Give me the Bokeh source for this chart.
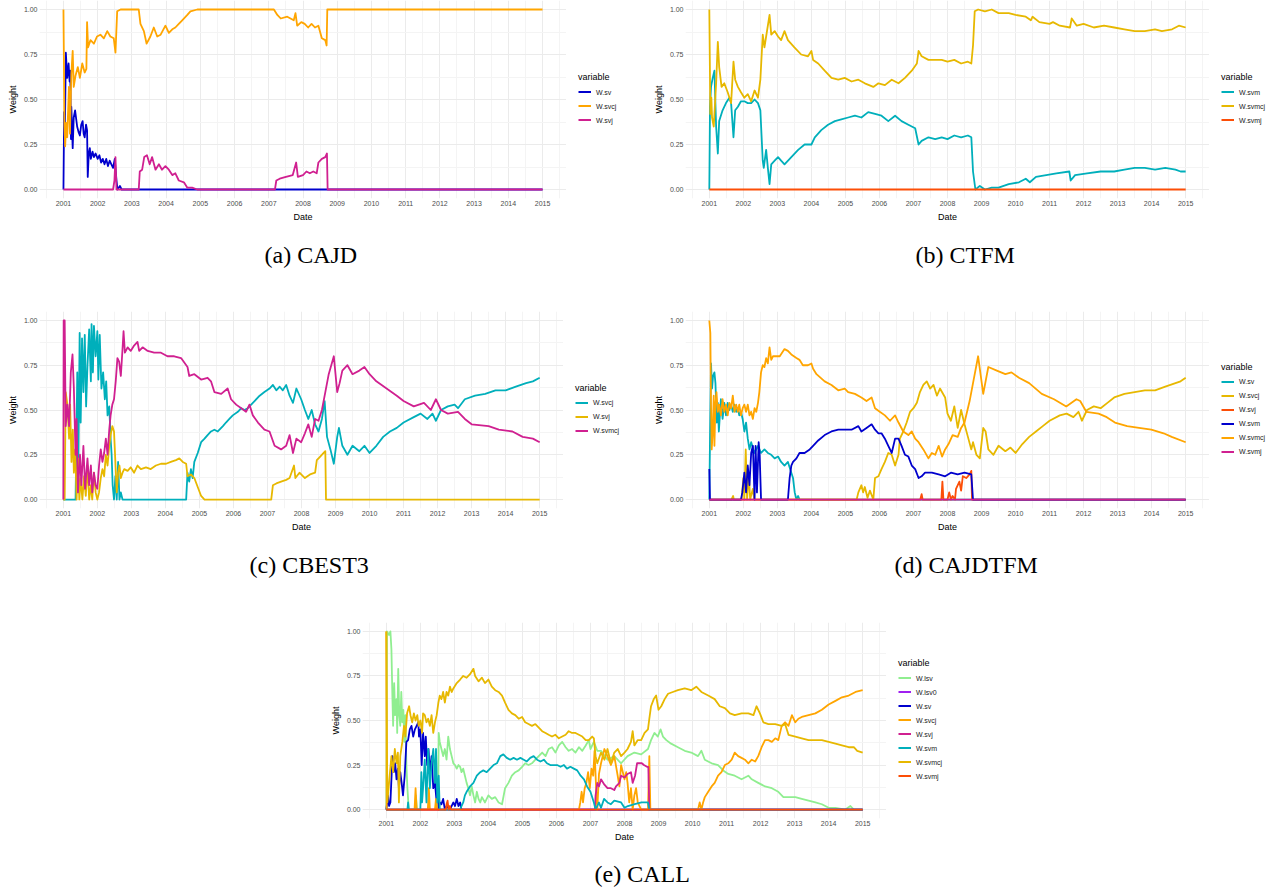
from bokeh.plotting import figure
from bokeh.models import (Range1d, FixedTicker, NumeralTickFormatter, Legend,
                          LegendItem, Title, Spacer)
from bokeh.layouts import column, row
from bokeh.embed import file_html
from bokeh.resources import INLINE

# ---------------- tick labels ----------------
YEARS = list(range(2001, 2016))
HALF_YEARS = [y + 0.5 for y in range(2000, 2016)]
WEIGHT_TICKS = [0.0, 0.25, 0.5, 0.75, 1.0]
WEIGHT_MINOR = [0.125, 0.375, 0.625, 0.875]

# ---------------- colours ----------------
C_BLUE = "#0000CD"
C_ORANGE = "#FFA500"
C_MAGENTA = "#D02090"
C_TEAL = "#00AFBB"
C_GOLD = "#E7B800"
C_RED = "#FC4E07"
C_GREEN = "#90EE90"
C_PURPLE = "#A020F0"

# ---------------- (a) CAJD ----------------
A_SV = [(2001.00,0.00),(2001.02,0.43),(2001.04,0.30),(2001.07,0.76),(2001.11,0.62),(2001.15,0.70),
        (2001.18,0.60),(2001.20,0.66),(2001.22,0.28),(2001.23,0.46),(2001.27,0.23),(2001.30,0.40),
        (2001.34,0.44),(2001.40,0.35),(2001.44,0.32),(2001.48,0.30),(2001.52,0.36),(2001.56,0.38),
        (2001.59,0.31),(2001.62,0.29),(2001.66,0.36),(2001.69,0.33),(2001.71,0.07),(2001.74,0.20),
        (2001.77,0.23),(2001.80,0.17),(2001.85,0.21),(2001.89,0.18),(2001.94,0.20),(2002.00,0.17),
        (2002.05,0.19),(2002.10,0.15),(2002.15,0.17),(2002.20,0.14),(2002.25,0.17),(2002.30,0.13),
        (2002.35,0.16),(2002.40,0.14),(2002.45,0.12),(2002.50,0.17),(2002.55,0.05),(2002.58,0.00),
        (2002.65,0.02),(2002.70,0.00),(2015.00,0.00)]
A_SVCJ = [(2001.00,1.00),(2001.03,0.35),(2001.05,0.24),(2001.08,0.37),(2001.11,0.29),(2001.16,0.57),
          (2001.19,0.31),(2001.23,0.64),(2001.27,0.77),(2001.30,0.57),(2001.35,0.63),(2001.42,0.68),
          (2001.48,0.62),(2001.55,0.70),(2001.62,0.65),(2001.67,0.67),(2001.69,0.93),(2001.72,0.79),
          (2001.79,0.83),(2001.89,0.81),(2001.98,0.85),(2002.08,0.86),(2002.18,0.84),(2002.28,0.88),
          (2002.37,0.85),(2002.47,0.84),(2002.52,0.76),(2002.57,0.99),(2002.67,1.00),(2003.20,1.00),
          (2003.25,0.92),(2003.35,0.88),(2003.43,0.81),(2003.54,0.85),(2003.64,0.90),(2003.74,0.85),
          (2003.84,0.86),(2003.98,0.91),(2004.08,0.87),(2004.18,0.89),(2004.27,0.90),(2004.37,0.92),
          (2004.47,0.94),(2004.62,0.97),(2004.71,0.99),(2004.91,1.00),(2007.15,1.00),(2007.25,0.97),
          (2007.35,0.95),(2007.54,0.96),(2007.73,0.94),(2007.78,0.98),(2007.83,0.91),(2007.95,0.93),
          (2008.05,0.92),(2008.15,0.90),(2008.25,0.92),(2008.35,0.90),(2008.45,0.91),(2008.55,0.84),
          (2008.65,0.83),(2008.69,0.80),(2008.71,1.00),(2015.00,1.00)]
A_SVJ = [(2001.00,0.00),(2002.45,0.00),(2002.49,0.05),(2002.52,0.18),(2002.55,0.00),(2003.20,0.00),
         (2003.23,0.10),(2003.30,0.11),(2003.36,0.18),(2003.44,0.19),(2003.52,0.14),(2003.59,0.18),
         (2003.69,0.11),(2003.79,0.14),(2003.88,0.11),(2003.98,0.13),(2004.08,0.11),(2004.18,0.08),
         (2004.27,0.09),(2004.37,0.05),(2004.52,0.04),(2004.62,0.01),(2004.76,0.01),(2004.91,0.00),
         (2007.18,0.00),(2007.22,0.05),(2007.32,0.06),(2007.50,0.07),(2007.70,0.08),(2007.80,0.15),
         (2007.85,0.07),(2008.00,0.08),(2008.10,0.10),(2008.20,0.09),(2008.30,0.10),(2008.40,0.09),
         (2008.45,0.15),(2008.55,0.17),(2008.65,0.18),(2008.70,0.20),(2008.72,0.00),(2015.00,0.00)]

# ---------------- (b) CTFM ----------------
B_SVM = [(2001.00,0.00),(2001.02,0.46),(2001.05,0.57),(2001.10,0.62),(2001.15,0.66),(2001.20,0.35),
         (2001.25,0.20),(2001.29,0.38),(2001.39,0.44),(2001.49,0.48),(2001.59,0.51),(2001.64,0.48),
         (2001.71,0.29),(2001.76,0.44),(2001.84,0.46),(2001.93,0.49),(2002.03,0.49),(2002.13,0.48),
         (2002.23,0.48),(2002.33,0.50),(2002.43,0.48),(2002.50,0.44),(2002.57,0.16),(2002.60,0.12),
         (2002.67,0.22),(2002.72,0.12),(2002.77,0.03),(2002.82,0.14),(2002.92,0.16),(2003.02,0.18),
         (2003.11,0.16),(2003.21,0.14),(2003.41,0.18),(2003.61,0.22),(2003.80,0.25),(2004.00,0.25),
         (2004.10,0.29),(2004.29,0.33),(2004.49,0.36),(2004.69,0.38),(2004.88,0.39),(2005.08,0.40),
         (2005.28,0.41),(2005.47,0.40),(2005.67,0.43),(2005.87,0.42),(2006.06,0.41),(2006.26,0.38),
         (2006.46,0.41),(2006.65,0.38),(2006.85,0.36),(2007.05,0.34),(2007.15,0.25),(2007.24,0.27),
         (2007.44,0.29),(2007.64,0.28),(2007.83,0.29),(2008.00,0.28),(2008.20,0.30),(2008.40,0.29),
         (2008.60,0.30),(2008.70,0.29),(2008.75,0.10),(2008.82,0.00),(2008.95,0.02),(2009.10,0.00),
         (2009.30,0.01),(2009.50,0.01),(2009.80,0.03),(2010.10,0.04),(2010.30,0.06),(2010.42,0.04),
         (2010.60,0.07),(2010.90,0.08),(2011.20,0.09),(2011.58,0.10),(2011.62,0.05),(2011.75,0.08),
         (2012.10,0.09),(2012.50,0.10),(2012.90,0.10),(2013.20,0.11),(2013.50,0.12),(2013.80,0.12),
         (2014.10,0.11),(2014.40,0.12),(2014.70,0.11),(2014.85,0.10),(2015.00,0.10)]
B_SVMCJ = [(2001.00,1.00),(2001.03,0.42),(2001.06,0.51),(2001.08,0.40),(2001.13,0.35),(2001.20,0.59),
           (2001.25,0.82),(2001.29,0.68),(2001.36,0.57),(2001.44,0.59),(2001.54,0.54),(2001.64,0.48),
           (2001.71,0.71),(2001.76,0.61),(2001.84,0.57),(2001.93,0.54),(2002.03,0.51),(2002.13,0.53),
           (2002.23,0.49),(2002.33,0.55),(2002.43,0.51),(2002.50,0.61),(2002.57,0.86),(2002.62,0.79),
           (2002.67,0.85),(2002.77,0.97),(2002.82,0.86),(2002.92,0.88),(2003.02,0.85),(2003.11,0.83),
           (2003.21,0.88),(2003.31,0.83),(2003.50,0.79),(2003.70,0.75),(2003.90,0.74),(2004.00,0.77),
           (2004.05,0.72),(2004.20,0.70),(2004.39,0.66),(2004.59,0.62),(2004.79,0.61),(2004.98,0.62),
           (2005.18,0.60),(2005.38,0.61),(2005.57,0.59),(2005.82,0.57),(2005.97,0.59),(2006.16,0.58),
           (2006.36,0.61),(2006.56,0.59),(2006.75,0.62),(2006.95,0.66),(2007.10,0.70),(2007.15,0.77),
           (2007.24,0.74),(2007.44,0.72),(2007.64,0.72),(2007.83,0.72),(2008.00,0.71),(2008.20,0.72),
           (2008.40,0.70),(2008.60,0.71),(2008.70,0.70),(2008.75,0.80),(2008.80,0.99),(2008.90,1.00),
           (2009.10,0.99),(2009.30,1.00),(2009.50,0.98),(2009.80,0.98),(2010.00,0.97),(2010.30,0.96),
           (2010.45,0.94),(2010.50,0.96),(2010.70,0.93),(2011.00,0.92),(2011.10,0.93),(2011.30,0.91),
           (2011.60,0.90),(2011.65,0.95),(2011.80,0.91),(2012.00,0.92),(2012.30,0.90),(2012.60,0.91),
           (2012.90,0.90),(2013.20,0.89),(2013.50,0.88),(2013.80,0.88),(2014.10,0.89),(2014.30,0.88),
           (2014.60,0.89),(2014.80,0.91),(2015.00,0.90)]
B_SVMJ = [(2001.00,0.00),(2015.00,0.00)]

# ---------------- (c) CBEST3 ----------------
C_SVCJ = [(2001.00,0.00),(2001.36,0.00),(2001.41,0.71),(2001.44,0.15),(2001.48,0.93),(2001.51,0.43),
          (2001.55,0.90),(2001.59,0.60),(2001.63,0.92),(2001.67,0.52),(2001.71,0.75),(2001.76,0.95),
          (2001.81,0.66),(2001.83,0.98),(2001.87,0.71),(2001.90,0.97),(2001.95,0.80),(2002.00,0.94),
          (2002.03,0.67),(2002.07,0.92),(2002.12,0.62),(2002.17,0.71),(2002.22,0.56),(2002.26,0.66),
          (2002.30,0.47),(2002.35,0.52),(2002.39,0.34),(2002.42,0.25),(2002.45,0.08),(2002.49,0.00),
          (2002.53,0.13),(2002.57,0.00),(2002.61,0.21),(2002.65,0.00),(2002.69,0.04),(2002.74,0.00),
          (2004.61,0.00),(2004.65,0.15),(2004.70,0.10),(2004.75,0.17),(2004.80,0.12),(2004.85,0.21),
          (2004.95,0.26),(2005.05,0.32),(2005.15,0.34),(2005.24,0.36),(2005.34,0.38),(2005.44,0.39),
          (2005.54,0.38),(2005.69,0.41),(2005.78,0.43),(2005.88,0.45),(2005.98,0.47),(2006.13,0.49),
          (2006.23,0.51),(2006.32,0.50),(2006.42,0.51),(2006.52,0.53),(2006.62,0.55),(2006.77,0.58),
          (2006.91,0.60),(2007.06,0.62),(2007.16,0.64),(2007.26,0.61),(2007.36,0.63),(2007.45,0.61),
          (2007.55,0.64),(2007.65,0.58),(2007.75,0.54),(2007.85,0.62),(2007.99,0.56),(2008.10,0.50),
          (2008.20,0.45),(2008.30,0.50),(2008.40,0.42),(2008.50,0.38),(2008.60,0.45),(2008.68,0.55),
          (2008.75,0.35),(2008.85,0.28),(2008.95,0.20),(2009.05,0.35),(2009.10,0.40),(2009.20,0.30),
          (2009.35,0.25),(2009.50,0.30),(2009.70,0.27),(2009.85,0.30),(2010.00,0.26),(2010.20,0.30),
          (2010.40,0.35),(2010.60,0.38),(2010.80,0.40),(2011.00,0.43),(2011.30,0.46),(2011.50,0.48),
          (2011.70,0.45),(2011.85,0.48),(2011.95,0.44),(2012.10,0.50),(2012.30,0.52),(2012.50,0.53),
          (2012.60,0.51),(2012.80,0.56),(2013.10,0.58),(2013.40,0.59),(2013.70,0.61),(2014.00,0.61),
          (2014.30,0.63),(2014.60,0.65),(2014.80,0.66),(2015.00,0.68)]
C_SVJ = [(2001.00,0.00),(2001.04,0.00),(2001.07,0.60),(2001.12,0.53),(2001.17,0.34),(2001.20,0.53),
         (2001.24,0.21),(2001.28,0.39),(2001.31,0.15),(2001.35,0.28),(2001.39,0.00),(2001.43,0.23),
         (2001.47,0.00),(2001.51,0.12),(2001.56,0.00),(2001.61,0.13),(2001.66,0.02),(2001.71,0.19),
         (2001.76,0.00),(2001.81,0.08),(2001.85,0.00),(2001.90,0.15),(2001.95,0.04),(2002.00,0.00),
         (2002.05,0.04),(2002.10,0.12),(2002.15,0.17),(2002.20,0.13),(2002.25,0.25),(2002.30,0.19),
         (2002.35,0.30),(2002.39,0.36),(2002.44,0.41),(2002.49,0.38),(2002.53,0.21),(2002.57,0.04),
         (2002.61,0.15),(2002.65,0.19),(2002.69,0.12),(2002.74,0.15),(2002.79,0.17),(2002.89,0.16),
         (2002.98,0.18),(2003.08,0.15),(2003.18,0.19),(2003.28,0.17),(2003.43,0.18),(2003.57,0.17),
         (2003.72,0.19),(2003.87,0.20),(2004.02,0.20),(2004.16,0.21),(2004.31,0.22),(2004.41,0.23),
         (2004.51,0.21),(2004.61,0.20),(2004.65,0.13),(2004.75,0.14),(2004.85,0.12),(2004.95,0.07),
         (2005.05,0.02),(2005.15,0.00),(2007.11,0.00),(2007.16,0.08),(2007.26,0.09),(2007.40,0.10),
         (2007.55,0.11),(2007.65,0.12),(2007.78,0.19),(2007.82,0.12),(2007.94,0.15),(2008.10,0.12),
         (2008.25,0.14),(2008.40,0.15),(2008.45,0.22),(2008.55,0.24),(2008.65,0.26),(2008.70,0.27),
         (2008.72,0.00),(2015.00,0.00)]
C_SVMCJ = [(2001.00,0.00),(2001.01,1.00),(2001.04,1.00),(2001.07,0.41),(2001.12,0.53),(2001.17,0.41),
           (2001.22,0.71),(2001.27,0.81),(2001.31,0.62),(2001.36,0.25),(2001.39,0.45),(2001.43,0.04),
           (2001.49,0.25),(2001.53,0.08),(2001.59,0.30),(2001.64,0.06),(2001.71,0.23),(2001.76,0.08),
           (2001.81,0.19),(2001.85,0.04),(2001.90,0.15),(2001.95,0.08),(2002.00,0.06),(2002.05,0.19),
           (2002.10,0.28),(2002.15,0.21),(2002.20,0.26),(2002.25,0.34),(2002.30,0.25),(2002.35,0.39),
           (2002.39,0.47),(2002.44,0.53),(2002.49,0.56),(2002.54,0.66),(2002.59,0.79),(2002.64,0.77),
           (2002.69,0.69),(2002.74,0.84),(2002.77,0.94),(2002.81,0.82),(2002.89,0.85),(2002.98,0.83),
           (2003.08,0.86),(2003.18,0.88),(2003.23,0.83),(2003.33,0.85),(2003.48,0.83),(2003.67,0.82),
           (2003.87,0.82),(2004.06,0.80),(2004.26,0.80),(2004.46,0.79),(2004.65,0.74),(2004.70,0.69),
           (2004.85,0.70),(2005.05,0.67),(2005.24,0.68),(2005.34,0.66),(2005.44,0.60),(2005.64,0.59),
           (2005.83,0.62),(2005.93,0.56),(2006.08,0.53),(2006.23,0.51),(2006.37,0.49),(2006.47,0.53),
           (2006.57,0.47),(2006.72,0.43),(2006.91,0.39),(2007.06,0.38),(2007.21,0.30),(2007.40,0.28),
           (2007.55,0.30),(2007.65,0.36),(2007.75,0.26),(2007.85,0.34),(2007.99,0.32),(2008.10,0.37),
           (2008.20,0.42),(2008.30,0.35),(2008.40,0.45),(2008.50,0.44),(2008.60,0.50),(2008.70,0.60),
           (2008.80,0.70),(2008.95,0.80),(2009.05,0.60),(2009.12,0.65),(2009.20,0.72),(2009.35,0.75),
           (2009.50,0.70),(2009.70,0.72),(2009.85,0.74),(2010.00,0.70),(2010.20,0.66),(2010.50,0.62),
           (2010.80,0.58),(2011.00,0.55),(2011.30,0.52),(2011.60,0.54),(2011.80,0.50),(2011.95,0.56),
           (2012.10,0.50),(2012.30,0.48),(2012.60,0.49),(2012.80,0.45),(2013.00,0.42),(2013.50,0.41),
           (2013.80,0.39),(2014.20,0.38),(2014.50,0.35),(2014.80,0.34),(2015.00,0.32)]

# ---------------- (d) CAJDTFM ----------------
D_SV = [(2001.00,0.00),(2001.02,0.34),(2001.05,0.76),(2001.08,0.62),(2001.11,0.69),(2001.15,0.71),
        (2001.18,0.65),(2001.22,0.43),(2001.25,0.54),(2001.28,0.38),(2001.31,0.47),(2001.34,0.56),
        (2001.39,0.45),(2001.44,0.54),(2001.49,0.47),(2001.54,0.54),(2001.59,0.50),(2001.64,0.53),
        (2001.69,0.49),(2001.74,0.53),(2001.79,0.49),(2001.84,0.51),(2001.88,0.47),(2001.93,0.49),
        (2001.98,0.45),(2002.03,0.38),(2002.08,0.43),(2002.13,0.34),(2002.18,0.28),(2002.23,0.32),
        (2002.33,0.26),(2002.43,0.30),(2002.52,0.26),(2002.62,0.28),(2002.72,0.26),(2002.82,0.25),
        (2002.92,0.23),(2003.02,0.24),(2003.11,0.21),(2003.21,0.19),(2003.31,0.21),(2003.41,0.15),
        (2003.46,0.12),(2003.51,0.04),(2003.56,0.00),(2003.61,0.02),(2003.65,0.00),(2015.00,0.00)]
D_SVCJ = [(2001.00,0.00),(2001.65,0.00),(2001.70,0.02),(2001.72,0.00),(2001.95,0.00),(2002.00,0.12),
          (2002.03,0.00),(2002.07,0.28),(2002.11,0.00),(2002.16,0.15),(2002.20,0.00),(2002.28,0.06),
          (2002.32,0.00),(2005.33,0.00),(2005.38,0.04),(2005.47,0.08),(2005.52,0.04),(2005.57,0.07),
          (2005.65,0.01),(2005.72,0.05),(2005.82,0.00),(2005.87,0.12),(2005.97,0.13),(2006.06,0.17),
          (2006.16,0.21),(2006.26,0.26),(2006.36,0.25),(2006.46,0.19),(2006.56,0.25),(2006.60,0.34),
          (2006.70,0.38),(2006.80,0.43),(2006.90,0.49),(2007.00,0.51),(2007.10,0.54),(2007.19,0.60),
          (2007.29,0.64),(2007.39,0.66),(2007.49,0.62),(2007.59,0.64),(2007.69,0.58),(2007.78,0.62),
          (2007.93,0.57),(2008.00,0.48),(2008.10,0.44),(2008.20,0.52),(2008.30,0.40),(2008.40,0.50),
          (2008.50,0.42),(2008.60,0.35),(2008.70,0.28),(2008.75,0.32),(2008.85,0.25),(2008.95,0.23),
          (2009.05,0.40),(2009.12,0.38),(2009.20,0.28),(2009.35,0.25),(2009.50,0.30),(2009.70,0.27),
          (2009.85,0.29),(2010.00,0.26),(2010.20,0.31),(2010.40,0.35),(2010.60,0.38),(2010.80,0.41),
          (2011.00,0.44),(2011.30,0.47),(2011.50,0.48),(2011.70,0.46),(2011.85,0.49),(2011.95,0.44),
          (2012.10,0.50),(2012.30,0.52),(2012.50,0.51),(2012.70,0.54),(2012.90,0.57),(2013.20,0.59),
          (2013.50,0.60),(2013.80,0.61),(2014.10,0.61),(2014.40,0.63),(2014.70,0.65),(2014.85,0.66),
          (2015.00,0.68)]
D_SVJ = [(2001.00,0.00),(2007.20,0.00),(2007.24,0.03),(2007.27,0.00),(2007.82,0.00),(2007.85,0.10),
         (2007.88,0.00),(2008.00,0.00),(2008.05,0.04),(2008.10,0.00),(2008.15,0.02),(2008.22,0.00),
         (2008.25,0.06),(2008.35,0.10),(2008.40,0.05),(2008.45,0.13),(2008.55,0.12),(2008.65,0.14),
         (2008.70,0.16),(2008.72,0.00),(2015.00,0.00)]
D_SVM = [(2001.00,0.17),(2001.02,0.00),(2001.93,0.00),(2001.97,0.04),(2002.03,0.15),(2002.08,0.04),
         (2002.13,0.19),(2002.18,0.08),(2002.23,0.26),(2002.28,0.30),(2002.33,0.00),(2002.36,0.30),
         (2002.40,0.04),(2002.45,0.32),(2002.48,0.25),(2002.52,0.00),(2003.31,0.00),(2003.36,0.12),
         (2003.41,0.19),(2003.46,0.21),(2003.56,0.23),(2003.65,0.26),(2003.80,0.26),(2003.95,0.28),
         (2004.05,0.30),(2004.20,0.33),(2004.39,0.36),(2004.59,0.38),(2004.79,0.39),(2004.98,0.39),
         (2005.18,0.39),(2005.38,0.41),(2005.47,0.38),(2005.62,0.40),(2005.77,0.42),(2005.87,0.39),
         (2005.97,0.37),(2006.06,0.37),(2006.16,0.34),(2006.26,0.30),(2006.36,0.26),(2006.46,0.34),
         (2006.56,0.34),(2006.65,0.30),(2006.75,0.25),(2006.85,0.24),(2006.95,0.19),(2007.05,0.17),
         (2007.15,0.12),(2007.24,0.13),(2007.34,0.15),(2007.54,0.15),(2007.74,0.14),(2007.93,0.13),
         (2008.10,0.15),(2008.30,0.14),(2008.50,0.15),(2008.70,0.14),(2008.75,0.00),(2015.00,0.00)]
D_SVMCJ = [(2001.00,1.00),(2001.03,0.93),(2001.05,0.53),(2001.07,0.28),(2001.10,0.38),(2001.13,0.58),
           (2001.15,0.30),(2001.18,0.53),(2001.21,0.60),(2001.25,0.49),(2001.29,0.53),(2001.34,0.47),
           (2001.39,0.56),(2001.44,0.49),(2001.49,0.53),(2001.54,0.47),(2001.59,0.54),(2001.64,0.51),
           (2001.69,0.58),(2001.74,0.49),(2001.79,0.53),(2001.84,0.49),(2001.88,0.53),(2001.93,0.47),
           (2001.98,0.51),(2002.03,0.53),(2002.08,0.49),(2002.13,0.53),(2002.18,0.47),(2002.23,0.49),
           (2002.28,0.45),(2002.33,0.51),(2002.38,0.49),(2002.43,0.54),(2002.47,0.60),(2002.52,0.71),
           (2002.57,0.75),(2002.62,0.74),(2002.67,0.79),(2002.72,0.76),(2002.77,0.85),(2002.82,0.78),
           (2002.87,0.80),(2002.97,0.80),(2003.07,0.80),(2003.21,0.84),(2003.31,0.83),(2003.41,0.81),
           (2003.56,0.79),(2003.65,0.78),(2003.75,0.75),(2003.90,0.75),(2004.00,0.76),(2004.05,0.73),
           (2004.15,0.70),(2004.39,0.66),(2004.59,0.64),(2004.79,0.61),(2004.98,0.62),(2005.08,0.60),
           (2005.28,0.59),(2005.47,0.57),(2005.62,0.55),(2005.77,0.57),(2005.87,0.51),(2006.01,0.49),
           (2006.16,0.47),(2006.31,0.44),(2006.46,0.47),(2006.56,0.43),(2006.70,0.38),(2006.85,0.36),
           (2006.95,0.38),(2007.05,0.34),(2007.15,0.32),(2007.29,0.28),(2007.44,0.23),(2007.54,0.26),
           (2007.64,0.25),(2007.74,0.30),(2007.84,0.24),(2007.93,0.28),(2008.03,0.31),(2008.15,0.36),
           (2008.30,0.35),(2008.40,0.40),(2008.50,0.43),(2008.65,0.55),(2008.75,0.65),(2008.90,0.80),
           (2009.05,0.59),(2009.20,0.74),(2009.45,0.72),(2009.70,0.70),(2009.88,0.71),(2010.10,0.68),
           (2010.40,0.65),(2010.77,0.59),(2011.13,0.56),(2011.49,0.52),(2011.79,0.56),(2011.90,0.55),
           (2012.08,0.49),(2012.44,0.48),(2012.68,0.46),(2012.92,0.43),(2013.28,0.41),(2013.63,0.40),
           (2013.99,0.39),(2014.35,0.37),(2014.59,0.35),(2015.00,0.32)]
D_SVMJ = [(2001.00,0.00),(2015.00,0.00)]

# ---------------- (e) CALL ----------------
E_LSV = [(2001.00,0.00),(2001.02,1.00),(2001.08,0.98),(2001.12,1.00),(2001.15,0.90),(2001.18,0.62),
         (2001.20,0.47),(2001.23,0.71),(2001.26,0.53),(2001.30,0.62),(2001.32,0.43),(2001.35,0.79),
         (2001.38,0.53),(2001.41,0.47),(2001.44,0.66),(2001.47,0.49),(2001.50,0.56),(2001.53,0.38),
         (2001.56,0.53),(2001.59,0.25),(2001.62,0.12),(2001.66,0.00),(2001.85,0.00),(2001.87,0.08),
         (2001.90,0.00),(2002.52,0.00),(2002.54,0.43),(2002.57,0.38),(2002.62,0.34),(2002.67,0.30),
         (2002.72,0.34),(2002.77,0.28),(2002.82,0.41),(2002.87,0.34),(2002.92,0.30),(2002.97,0.26),
         (2003.02,0.25),(2003.07,0.23),(2003.12,0.25),(2003.17,0.24),(2003.21,0.21),(2003.26,0.23),
         (2003.31,0.19),(2003.36,0.15),(2003.41,0.12),(2003.46,0.08),(2003.51,0.13),(2003.56,0.08),
         (2003.61,0.04),(2003.66,0.10),(2003.71,0.06),(2003.76,0.04),(2003.81,0.07),(2003.90,0.04),
         (2004.00,0.08),(2004.10,0.06),(2004.20,0.07),(2004.30,0.04),(2004.40,0.03),(2004.49,0.12),
         (2004.59,0.15),(2004.69,0.19),(2004.79,0.21),(2004.89,0.22),(2004.99,0.24),(2005.08,0.26),
         (2005.18,0.25),(2005.28,0.26),(2005.38,0.28),(2005.48,0.30),(2005.58,0.32),(2005.68,0.30),
         (2005.77,0.34),(2005.87,0.35),(2005.97,0.32),(2006.07,0.36),(2006.17,0.38),(2006.27,0.35),
         (2006.36,0.33),(2006.46,0.34),(2006.56,0.32),(2006.66,0.35),(2006.76,0.33),(2006.86,0.36),
         (2006.95,0.39),(2007.00,0.34),(2007.10,0.38),(2007.20,0.33),(2007.31,0.33),(2007.50,0.28),
         (2007.70,0.30),(2007.90,0.26),(2008.09,0.30),(2008.29,0.32),(2008.49,0.31),(2008.69,0.34),
         (2008.78,0.39),(2008.88,0.43),(2008.98,0.41),(2009.06,0.45),(2009.13,0.41),(2009.23,0.39),
         (2009.37,0.37),(2009.57,0.35),(2009.77,0.33),(2009.96,0.32),(2010.16,0.30),(2010.26,0.33),
         (2010.36,0.28),(2010.56,0.26),(2010.75,0.25),(2010.90,0.22),(2011.05,0.20),(2011.24,0.19),
         (2011.44,0.17),(2011.64,0.19),(2011.74,0.17),(2011.93,0.15),(2012.13,0.13),(2012.33,0.12),
         (2012.52,0.10),(2012.67,0.07),(2012.82,0.07),(2013.02,0.07),(2013.21,0.06),(2013.41,0.05),
         (2013.61,0.04),(2013.80,0.03),(2014.00,0.01),(2014.20,0.01),(2014.49,0.00),(2014.64,0.02),
         (2014.74,0.00),(2015.00,0.00)]
E_LSV0 = [(2001.00,0.00),(2015.00,0.00)]
E_SV = [(2001.00,0.00),(2001.05,0.08),(2001.08,0.02),(2001.12,0.04),(2001.15,0.17),(2001.18,0.30),
        (2001.22,0.21),(2001.26,0.26),(2001.30,0.17),(2001.34,0.23),(2001.37,0.12),(2001.41,0.21),
        (2001.45,0.15),(2001.49,0.08),(2001.54,0.19),(2001.59,0.38),(2001.64,0.39),(2001.69,0.45),
        (2001.74,0.47),(2001.79,0.41),(2001.84,0.45),(2001.89,0.47),(2001.94,0.49),(2001.96,0.41),
        (2002.00,0.45),(2002.04,0.25),(2002.08,0.43),(2002.13,0.30),(2002.16,0.41),(2002.20,0.25),
        (2002.24,0.34),(2002.28,0.21),(2002.33,0.30),(2002.38,0.12),(2002.43,0.15),(2002.48,0.04),
        (2002.51,0.15),(2002.54,0.00),(2002.57,0.04),(2002.62,0.03),(2002.67,0.06),(2002.72,0.00),
        (2002.77,0.02),(2002.87,0.00),(2002.97,0.04),(2003.02,0.02),(2003.07,0.06),(2003.12,0.02),
        (2003.17,0.04),(2003.21,0.00),(2015.00,0.00)]
E_SVCJ = [(2001.00,1.00),(2001.01,0.00),(2001.83,0.00),(2001.86,0.12),(2001.89,0.00),(2002.22,0.00),
          (2002.25,0.12),(2002.28,0.00),(2002.43,0.00),(2002.46,0.06),(2002.49,0.00),(2006.66,0.00),
          (2006.70,0.04),(2006.74,0.10),(2006.78,0.04),(2006.83,0.12),(2006.88,0.15),(2006.93,0.21),
          (2006.98,0.12),(2007.03,0.23),(2007.08,0.19),(2007.12,0.33),(2007.17,0.10),(2007.20,0.00),
          (2007.25,0.20),(2007.31,0.26),(2007.41,0.34),(2007.50,0.30),(2007.60,0.25),(2007.70,0.30),
          (2007.80,0.19),(2007.85,0.13),(2007.90,0.25),(2008.00,0.17),(2008.05,0.21),(2008.09,0.15),
          (2008.14,0.04),(2008.19,0.12),(2008.24,0.00),(2008.29,0.08),(2008.34,0.12),(2008.39,0.04),
          (2008.49,0.00),(2008.69,0.00),(2008.73,0.30),(2008.76,0.00),(2010.16,0.00),(2010.21,0.04),
          (2010.26,0.00),(2010.31,0.04),(2010.36,0.07),(2010.46,0.10),(2010.56,0.13),(2010.65,0.15),
          (2010.75,0.19),(2010.85,0.21),(2010.95,0.25),(2011.05,0.26),(2011.15,0.28),(2011.24,0.32),
          (2011.34,0.30),(2011.44,0.29),(2011.54,0.28),(2011.64,0.26),(2011.74,0.28),(2011.84,0.27),
          (2011.93,0.30),(2012.03,0.35),(2012.13,0.39),(2012.23,0.39),(2012.33,0.38),(2012.43,0.40),
          (2012.52,0.39),(2012.62,0.47),(2012.72,0.49),(2012.82,0.47),(2012.92,0.53),(2013.02,0.49),
          (2013.11,0.51),(2013.21,0.52),(2013.41,0.53),(2013.61,0.54),(2013.80,0.56),(2014.00,0.59),
          (2014.20,0.61),(2014.39,0.63),(2014.59,0.64),(2014.79,0.66),(2015.00,0.67)]
E_SVJ = [(2001.00,0.00),(2007.13,0.00),(2007.15,0.08),(2007.20,0.15),(2007.25,0.13),(2007.31,0.17),
         (2007.41,0.14),(2007.50,0.12),(2007.60,0.12),(2007.70,0.11),(2007.75,0.13),(2007.85,0.15),
         (2007.90,0.19),(2008.00,0.18),(2008.09,0.20),(2008.19,0.21),(2008.24,0.15),(2008.31,0.19),
         (2008.37,0.26),(2008.44,0.26),(2008.51,0.26),(2008.57,0.25),(2008.66,0.24),(2008.70,0.24),
         (2008.73,0.00),(2015.00,0.00)]
E_SVM = [(2001.00,0.00),(2001.62,0.00),(2001.64,0.04),(2001.66,0.00),(2002.00,0.00),(2002.03,0.21),
         (2002.05,0.04),(2002.08,0.12),(2002.13,0.28),(2002.18,0.04),(2002.23,0.34),(2002.28,0.12),
         (2002.33,0.26),(2002.38,0.34),(2002.43,0.15),(2002.46,0.34),(2002.50,0.04),(2002.54,0.19),
         (2002.57,0.00),(2003.17,0.00),(2003.21,0.02),(2003.26,0.04),(2003.31,0.08),(2003.36,0.10),
         (2003.46,0.13),(2003.56,0.15),(2003.66,0.19),(2003.76,0.21),(2003.85,0.22),(2003.95,0.21),
         (2004.05,0.23),(2004.15,0.25),(2004.25,0.26),(2004.35,0.30),(2004.44,0.31),(2004.54,0.29),
         (2004.64,0.28),(2004.74,0.29),(2004.84,0.28),(2004.94,0.29),(2005.04,0.28),(2005.13,0.27),
         (2005.23,0.29),(2005.33,0.30),(2005.43,0.28),(2005.53,0.27),(2005.63,0.28),(2005.72,0.26),
         (2005.82,0.25),(2005.92,0.25),(2006.02,0.25),(2006.12,0.24),(2006.22,0.25),(2006.31,0.23),
         (2006.41,0.24),(2006.51,0.23),(2006.61,0.22),(2006.71,0.19),(2006.81,0.17),(2006.90,0.13),
         (2007.00,0.10),(2007.10,0.04),(2007.15,0.00),(2007.25,0.04),(2007.31,0.01),(2007.40,0.06),
         (2007.50,0.04),(2007.60,0.03),(2007.70,0.05),(2007.90,0.04),(2008.00,0.01),(2008.10,0.02),
         (2008.30,0.03),(2008.50,0.04),(2008.69,0.04),(2008.73,0.00),(2015.00,0.00)]
E_SVMCJ = [(2001.00,1.00),(2001.03,0.04),(2001.08,0.15),(2001.15,0.30),(2001.20,0.21),(2001.25,0.34),
           (2001.30,0.26),(2001.34,0.32),(2001.37,0.04),(2001.41,0.30),(2001.47,0.38),(2001.52,0.47),
           (2001.56,0.41),(2001.61,0.54),(2001.67,0.58),(2001.71,0.53),(2001.76,0.49),(2001.81,0.54),
           (2001.86,0.50),(2001.91,0.53),(2001.95,0.47),(2002.00,0.50),(2002.05,0.43),(2002.08,0.54),
           (2002.13,0.53),(2002.18,0.49),(2002.23,0.51),(2002.28,0.47),(2002.33,0.53),(2002.38,0.43),
           (2002.43,0.49),(2002.48,0.53),(2002.53,0.60),(2002.57,0.64),(2002.62,0.62),(2002.67,0.66),
           (2002.72,0.60),(2002.77,0.66),(2002.82,0.64),(2002.87,0.69),(2002.92,0.66),(2002.97,0.68),
           (2003.07,0.71),(2003.17,0.73),(2003.26,0.75),(2003.36,0.74),(2003.46,0.76),(2003.56,0.79),
           (2003.61,0.75),(2003.71,0.72),(2003.81,0.74),(2003.90,0.71),(2004.00,0.73),(2004.10,0.69),
           (2004.20,0.67),(2004.30,0.66),(2004.40,0.64),(2004.49,0.60),(2004.59,0.56),(2004.69,0.54),
           (2004.79,0.53),(2004.89,0.51),(2004.99,0.52),(2005.08,0.49),(2005.18,0.48),(2005.28,0.47),
           (2005.38,0.48),(2005.48,0.46),(2005.58,0.44),(2005.68,0.43),(2005.77,0.42),(2005.87,0.41),
           (2005.97,0.42),(2006.07,0.40),(2006.17,0.41),(2006.27,0.42),(2006.36,0.44),(2006.46,0.43),
           (2006.56,0.43),(2006.66,0.42),(2006.76,0.41),(2006.86,0.39),(2006.95,0.39),(2007.05,0.41),
           (2007.10,0.40),(2007.15,0.30),(2007.20,0.26),(2007.31,0.32),(2007.41,0.28),(2007.50,0.34),
           (2007.60,0.26),(2007.70,0.32),(2007.80,0.34),(2007.90,0.30),(2008.00,0.32),(2008.09,0.34),
           (2008.19,0.38),(2008.24,0.44),(2008.29,0.36),(2008.39,0.39),(2008.49,0.39),(2008.59,0.43),
           (2008.69,0.45),(2008.73,0.51),(2008.78,0.58),(2008.86,0.62),(2008.93,0.64),(2009.00,0.56),
           (2009.08,0.58),(2009.18,0.62),(2009.28,0.65),(2009.42,0.66),(2009.57,0.67),(2009.77,0.68),
           (2009.96,0.67),(2010.11,0.69),(2010.26,0.66),(2010.46,0.64),(2010.65,0.62),(2010.80,0.58),
           (2010.95,0.57),(2011.10,0.54),(2011.24,0.53),(2011.44,0.54),(2011.64,0.54),(2011.79,0.53),
           (2011.88,0.58),(2011.98,0.54),(2012.08,0.49),(2012.23,0.48),(2012.43,0.48),(2012.62,0.47),
           (2012.72,0.48),(2012.82,0.42),(2013.02,0.41),(2013.21,0.40),(2013.41,0.39),(2013.61,0.39),
           (2013.80,0.39),(2014.00,0.38),(2014.20,0.37),(2014.39,0.36),(2014.59,0.35),(2014.74,0.35),
           (2014.84,0.33),(2015.00,0.32)]
E_SVMJ = [(2001.00,0.00),(2002.75,0.00),(2002.77,0.03),(2002.80,0.05),(2002.83,0.00),(2002.87,0.02),
          (2002.90,0.00),(2015.00,0.00)]

PANEL_A = [("W.sv", C_BLUE, A_SV), ("W.svcj", C_ORANGE, A_SVCJ), ("W.svj", C_MAGENTA, A_SVJ)]
PANEL_B = [("W.svm", C_TEAL, B_SVM), ("W.svmcj", C_GOLD, B_SVMCJ), ("W.svmj", C_RED, B_SVMJ)]
PANEL_C = [("W.svcj", C_TEAL, C_SVCJ), ("W.svj", C_GOLD, C_SVJ), ("W.svmcj", C_MAGENTA, C_SVMCJ)]
PANEL_D = [("W.sv", C_TEAL, D_SV), ("W.svcj", C_GOLD, D_SVCJ), ("W.svj", C_RED, D_SVJ),
           ("W.svm", C_BLUE, D_SVM), ("W.svmcj", C_ORANGE, D_SVMCJ), ("W.svmj", C_MAGENTA, D_SVMJ)]
PANEL_E = [("W.lsv", C_GREEN, E_LSV), ("W.lsv0", C_PURPLE, E_LSV0), ("W.sv", C_BLUE, E_SV),
           ("W.svcj", C_ORANGE, E_SVCJ), ("W.svj", C_MAGENTA, E_SVJ), ("W.svm", C_TEAL, E_SVM),
           ("W.svmcj", C_GOLD, E_SVMCJ), ("W.svmj", C_RED, E_SVMJ)]

SANS = "Liberation Sans"
SERIF = "Liberation Serif"
LINE_W = 1.8


def xy(pts):
    return [t for t, _ in pts], [w for _, w in pts]


def panel(caption, cap_offset, series, frame_w, frame_h, left, bottom, cap_standoff):
    p = figure(frame_width=frame_w, frame_height=frame_h, output_backend="svg",
               toolbar_location=None,
               x_range=Range1d(2000.3, 2015.7), y_range=Range1d(-0.05, 1.05),
               min_border_left=left, min_border_right=0, min_border_top=0,
               min_border_bottom=bottom)
    p.outline_line_color = None
    p.background_fill_color = "white"
    p.border_fill_color = "white"

    p.xaxis.ticker = FixedTicker(ticks=YEARS, minor_ticks=HALF_YEARS)
    p.yaxis.ticker = FixedTicker(ticks=WEIGHT_TICKS, minor_ticks=WEIGHT_MINOR)
    p.xaxis.formatter = NumeralTickFormatter(format="0")
    p.yaxis.formatter = NumeralTickFormatter(format="0.00")
    for ax in (p.xaxis[0], p.yaxis[0]):
        ax.axis_line_color = None
        ax.major_tick_line_color = None
        ax.minor_tick_line_color = None
        ax.major_tick_out = 0
        ax.major_tick_in = 0
        ax.minor_tick_out = 0
        ax.minor_tick_in = 0
        ax.major_label_text_font = SANS
        ax.major_label_text_font_size = "7px"
        ax.major_label_text_color = "#4D4D4D"
        ax.major_label_standoff = 2
        ax.axis_label_text_font = SANS
        ax.axis_label_text_font_size = "9px"
        ax.axis_label_text_font_style = "normal"
        ax.axis_label_text_color = "black"
        ax.axis_label_standoff = 3
    p.xaxis.axis_label = "Date"
    p.yaxis.axis_label = "Weight"
    for g in (p.xgrid[0], p.ygrid[0]):
        g.grid_line_color = "#EBEBEB"
        g.grid_line_width = 1
        g.minor_grid_line_color = "#F4F4F4"
        g.minor_grid_line_width = 1

    for label, color, pts in series:
        xs, ys = xy(pts)
        p.line(xs, ys, line_color=color, line_width=LINE_W, line_join="round")

    cap = Title(text=caption, align="left", offset=cap_offset, standoff=cap_standoff,
                text_font=SERIF, text_font_size="24px", text_font_style="normal",
                text_color="black")
    p.add_layout(cap, "below")
    return p


def legend_box(series, width, frame_h, bottom):
    # separate legend panel; its line renderers reuse the series data, which lies
    # outside this panel's own 0..1 ranges, so only the legend keys are visible
    lf = figure(frame_width=width, frame_height=frame_h, output_backend="svg",
                toolbar_location=None, x_axis_location=None, y_axis_location=None,
                x_range=Range1d(0, 1), y_range=Range1d(0, 1),
                min_border_left=0, min_border_right=0, min_border_top=0,
                min_border_bottom=bottom)
    lf.outline_line_color = None
    lf.grid.visible = False
    items = []
    for label, color, pts in series:
        xs, ys = xy(pts)
        r = lf.line(xs, ys, line_color=color, line_width=LINE_W)
        items.append(LegendItem(label=label, renderers=[r]))
    legend = Legend(items=items, title="variable", location="center_left",
                    glyph_width=13, glyph_height=14, label_height=14, spacing=0,
                    label_standoff=5, padding=2, margin=12, title_standoff=3,
                    border_line_color=None, background_fill_alpha=0,
                    label_text_font=SANS, label_text_font_size="7px",
                    label_text_color="#1A1A1A",
                    title_text_font=SANS, title_text_font_size="9px",
                    title_text_font_style="normal", title_text_color="black")
    lf.add_layout(legend, "center")
    return lf


fa = panel("(a) CAJD", 225, PANEL_A, 527, 198, 39, 113, 31)
la = legend_box(PANEL_A, 74, 198, 113)
fb = panel("(b) CTFM", 230, PANEL_B, 524, 198, 45, 113, 31)
lb = legend_box(PANEL_B, 65, 198, 113)
fc = panel("(c) CBEST3", 210, PANEL_C, 524, 197, 39, 114, 31)
lc = legend_box(PANEL_C, 77, 197, 114)
fd = panel("(d) CAJDTFM", 209, PANEL_D, 524, 197, 45, 114, 31)
ld = legend_box(PANEL_D, 65, 197, 114)
fe = panel("(e) CALL", 232, PANEL_E, 524, 196, 52, 74, 29)
le = legend_box(PANEL_E, 70, 196, 74)

layout = column(row(fa, la, fb, lb), row(fc, lc, fd, ld),
                row(Spacer(width=310, height=270), fe, le))

open("out.html", "w").write(file_html(layout, INLINE))
